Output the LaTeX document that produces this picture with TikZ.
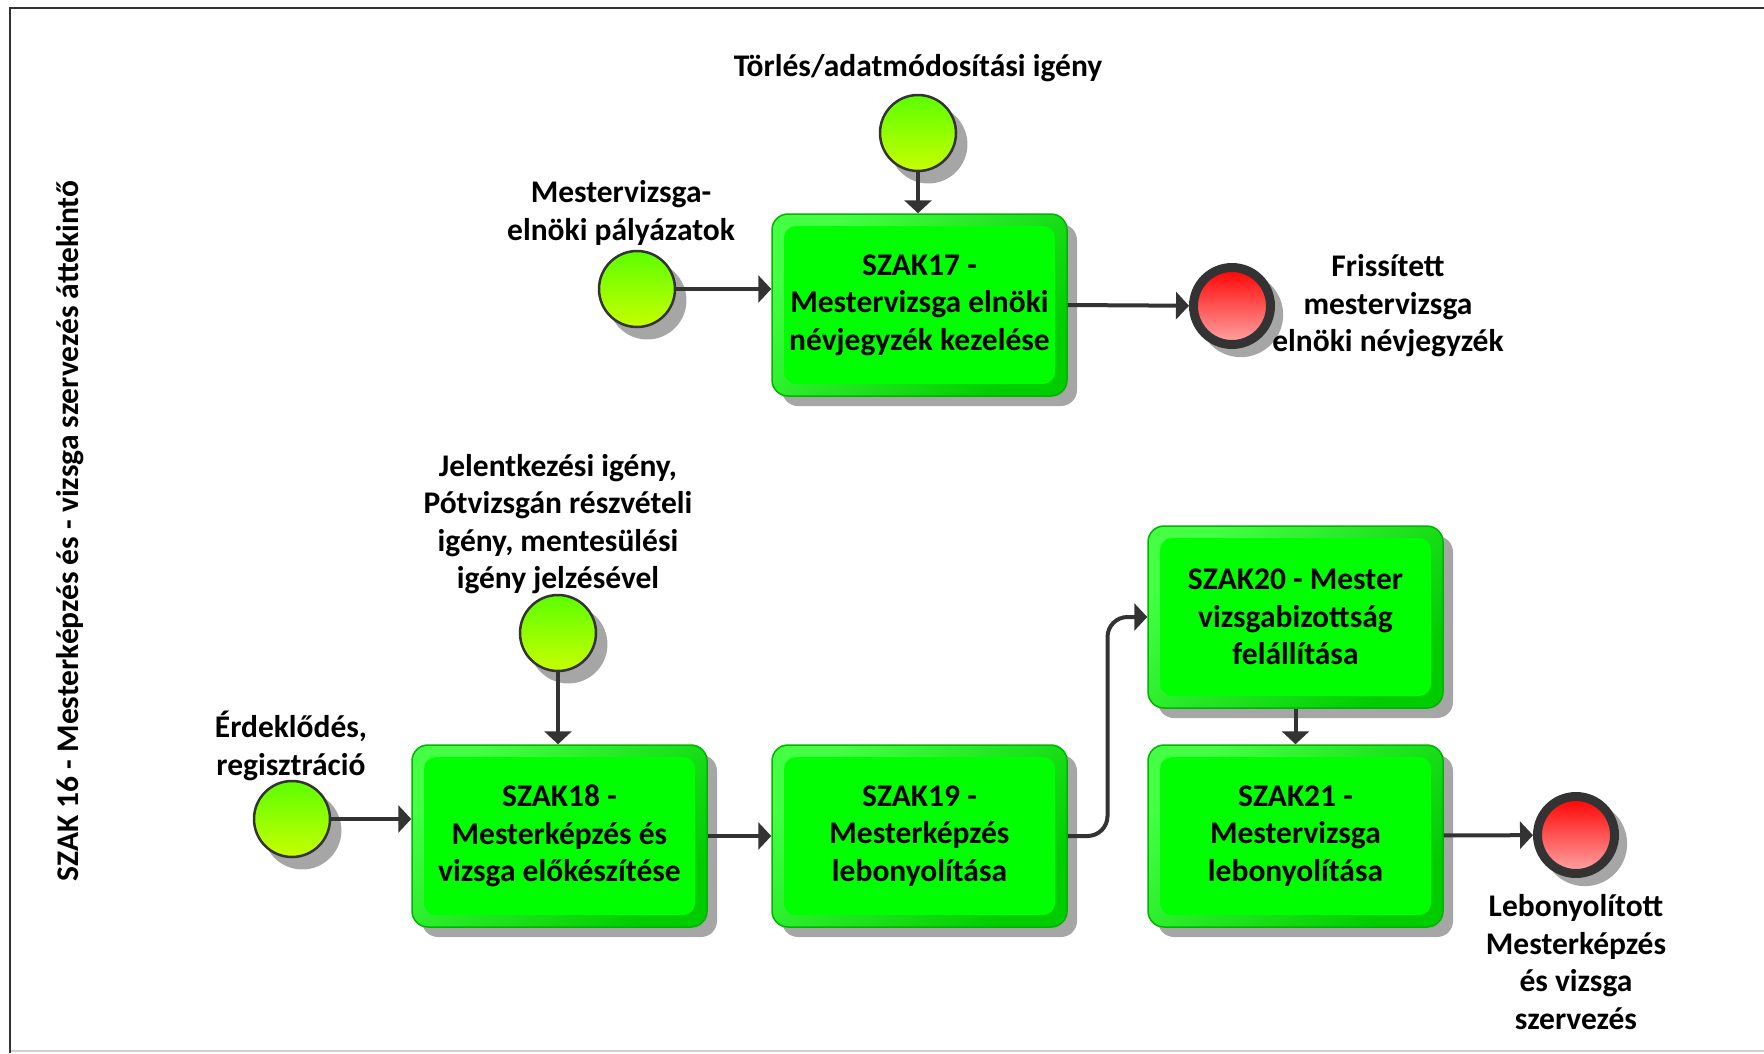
\documentclass[tikz,border=0pt]{standalone}
\usepackage{fontspec}
\setmainfont{Carlito}
\usetikzlibrary{arrows.meta,shadows,calc}

\definecolor{ink}{HTML}{333333}
\definecolor{shadegray}{HTML}{A6A6A6}
\definecolor{boxlight}{HTML}{44FF44}
\definecolor{boxdark}{HTML}{00CC00}
\definecolor{boxcore}{HTML}{00FF00}
\definecolor{boxedge}{HTML}{00B400}
\definecolor{starttop}{HTML}{5CFF00}
\definecolor{startbot}{HTML}{C8FF00}
\definecolor{endtop}{HTML}{FF0000}
\definecolor{endbot}{HTML}{FFA8A8}
\definecolor{framelow}{HTML}{D0D0D0}

\tikzset{
  task/.style={rounded corners=16pt, minimum width=295pt, minimum height=182pt,
    inner sep=0pt, align=center, draw=boxedge, line width=1.5pt,
    top color=boxlight, bottom color=boxdark, shading angle=45,
    drop shadow={shadow xshift=10pt, shadow yshift=-10pt, fill=shadegray, opacity=1},
    path picture={\fill[boxcore, rounded corners=12pt]
      ([xshift=12pt,yshift=-12pt]path picture bounding box.north west) rectangle
      ([xshift=-12pt,yshift=12pt]path picture bounding box.south east);}},
  startev/.style={circle, minimum size=76pt, inner sep=0pt, draw=ink, line width=2.5pt,
    top color=starttop, bottom color=startbot,
    drop shadow={shadow xshift=10pt, shadow yshift=-11pt, shadow scale=1.03, fill=shadegray, opacity=1}},
  endev/.style={circle, minimum size=77pt, inner sep=0pt, draw=ink, line width=9pt,
    top color=endtop, bottom color=endbot,
    drop shadow={shadow xshift=8pt, shadow yshift=-8pt, shadow scale=1.1, fill=shadegray, opacity=1}},
  lbl/.style={align=center, inner sep=0pt},
  flow/.style={draw=ink, line width=4pt, -{Triangle[length=13pt,width=27pt]}},
}

\begin{document}
\begin{tikzpicture}[x=1pt, y=-1pt, font=\fontsize{31.5}{37.5}\selectfont\bfseries]
\useasboundingbox (0,0) rectangle (1764,1053);

% frame of the overview sheet
\draw[framelow, line width=1.5pt] (10,1051) -- (1764,1051);
\draw[ink, line width=2.5pt] (10,1053) -- (10,8) -- (1764,8);

% side title
\node[lbl, rotate=90] (title) at (70,531) {SZAK 16 - Mesterképzés és - vizsga szervezés áttekintő};

% activities
\node[task] (s17) at (919.5,305) {SZAK17 -\\Mestervizsga elnöki\\névjegyzék kezelése};
\node[task] (s18) at (559.5,836) {SZAK18 -\\Mesterképzés és\\vizsga előkészítése};
\node[task] (s19) at (919.5,836) {SZAK19 -\\Mesterképzés\\lebonyolítása};
\node[task] (s20) at (1295.5,617) {SZAK20 - Mester\\vizsgabizottság\\felállítása};
\node[task] (s21) at (1295.5,836) {SZAK21 -\\Mestervizsga\\lebonyolítása};

% start events
\node[startev] (st17top) at (918,133) {};
\node[startev] (st17left) at (637,289) {};
\node[startev] (st18left) at (292,819) {};
\node[startev] (st18top) at (558,633) {};

% end events
\node[endev] (e17) at (1232,306) {};
\node[endev] (e21) at (1576,835) {};

% event labels
\node[lbl] (l17top) at (918,68) {Törlés/adatmódosítási igény};
\node[lbl] (l17left) at (621,213) {Mestervizsga-\\elnöki pályázatok};
\node[lbl] (le17) at (1388,306) {Frissített\\mestervizsga\\elnöki névjegyzék};
\node[lbl] (l18top) at (558,524) {Jelentkezési igény,\\Pótvizsgán részvételi\\igény, mentesülési\\igény jelzésével};
\node[lbl] (l18left) at (291,746) {Érdeklődés,\\regisztráció};
\node[lbl] (le21) at (1576,962) {Lebonyolított\\Mesterképzés\\és vizsga\\szervezés};

% sequence flows
\draw[flow] (st17top) -- (st17top |- s17.north);
\draw[flow] (st17left) -- (st17left -| s17.west);
\draw[flow] (s17.east) -- (e17);
\draw[flow] (st18left) -- (st18left -| s18.west);
\draw[flow] (st18top) -- (st18top |- s18.north);
\draw[flow] (s18) -- (s19);
\coordinate (bend) at ($(s19.east)!0.5!(s20.west)$);
\draw[flow, rounded corners=20pt] (s19.east) -| (bend) |- (s20.west);
\draw[flow] (s20) -- (s21);
\draw[flow] (s21) -- (e21);
\end{tikzpicture}
\end{document}
